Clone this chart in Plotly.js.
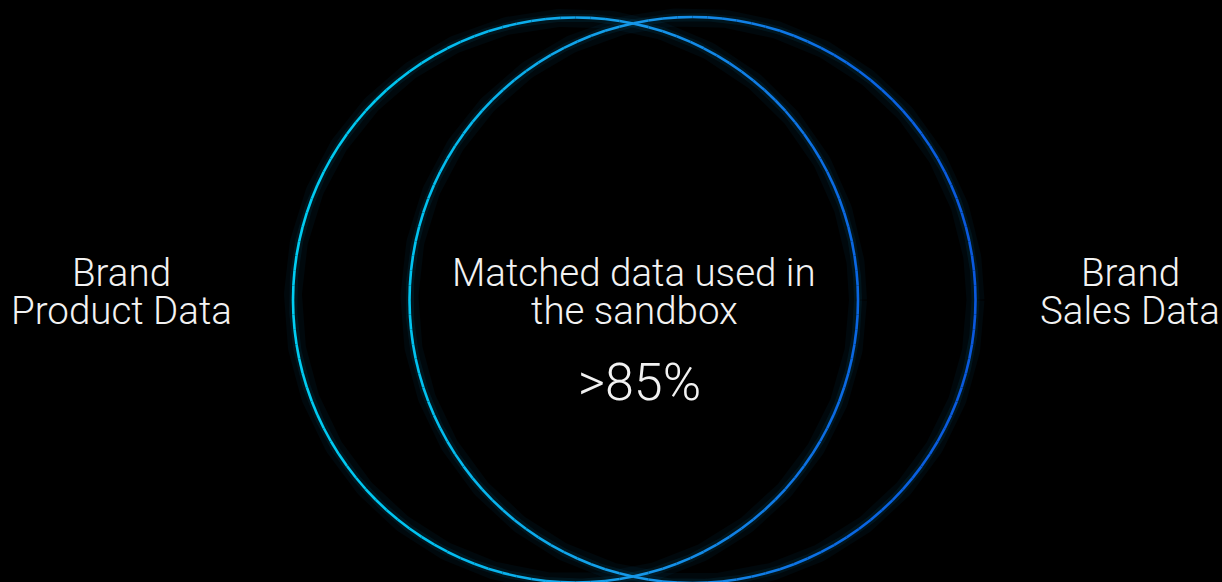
<!DOCTYPE html>
<html>
<head>
<meta charset="utf-8">
<script src="https://cdn.plot.ly/plotly-3.0.1.min.js"></script>
<style>
html,body{margin:0;padding:0;background:#000;}
#chart{width:1222px;height:582px;}
</style>
</head>
<body>
<div id="chart"></div>
<script>
// ---- data ----
var setNames = ["Brand Product Data", "Brand Sales Data"];
var setLabelLines = [["Brand", "Product Data"], ["Brand", "Sales Data"]];
var centerX = [575.5, 692.5];
var centerY = [300, 300];
var radius = [282.5, 283];
var overlapLines = ["Matched data used in", "the sandbox"];
var overlapValue = ">85%";

// gradient stops across x (colour of outline)
var gradX = [293, 409, 634, 858, 976];
var gradC = [[0,205,242],[0,196,240],[22,152,232],[10,102,226],[10,88,222]];

function colorAt(x){
  if (x <= gradX[0]) return gradC[0];
  for (var i=1;i<gradX.length;i++){
    if (x <= gradX[i]){
      var t=(x-gradX[i-1])/(gradX[i]-gradX[i-1]);
      var a=gradC[i-1], b=gradC[i];
      return [a[0]+(b[0]-a[0])*t, a[1]+(b[1]-a[1])*t, a[2]+(b[2]-a[2])*t];
    }
  }
  return gradC[gradC.length-1];
}

var traces = [];
var SEG = 120, STEP = 6;
for (var c=0;c<setNames.length;c++){
  var gx=[], gy=[];
  for (var k=0;k<=720;k++){
    var th=k/720*2*Math.PI;
    gx.push(centerX[c]+radius[c]*Math.cos(th));
    gy.push(centerY[c]+radius[c]*Math.sin(th));
  }
  traces.push({x:gx,y:gy,mode:'lines',type:'scatter',hoverinfo:'skip',showlegend:false,
    line:{color:'rgba(0,140,200,0.06)',width:18}});
  traces.push({x:gx,y:gy,mode:'lines',type:'scatter',hoverinfo:'skip',showlegend:false,
    line:{color:'rgba(0,150,210,0.09)',width:8}});
}
for (var c=0;c<setNames.length;c++){
  for (var s=0;s<SEG;s++){
    var xs=[], ys=[];
    for (var k=0;k<=STEP;k++){
      var th=(s+k/STEP)/SEG*2*Math.PI;
      xs.push(centerX[c]+radius[c]*Math.cos(th));
      ys.push(centerY[c]+radius[c]*Math.sin(th));
    }
    var col=colorAt(xs[Math.floor(STEP/2)]);
    traces.push({x:xs,y:ys,mode:'lines',type:'scatter',hoverinfo:'skip',showlegend:false,
      name:setNames[c],
      line:{color:'rgb('+Math.round(col[0])+','+Math.round(col[1])+','+Math.round(col[2])+')',width:2.6}});
  }
}

var fontBase = {family:'Roboto, "Noto Sans", sans-serif', color:'#f2f2f2', weight:300};
function f(size){ var o=JSON.parse(JSON.stringify(fontBase)); o.size=size; return o; }

var labelX = [121, 1130];
var lineMid = [272, 310];
var annotations = [];
function addLine(x, y, text, size, h){
  annotations.push({x:x, y:y, text:text, showarrow:false, xanchor:'center', yanchor:'middle',
    height:h, valign:'middle', font:f(size)});
}
for (var c=0;c<setLabelLines.length;c++){
  for (var l=0;l<setLabelLines[c].length;l++){
    addLine(labelX[c], lineMid[l], setLabelLines[c][l], 38.5, 30);
  }
}
for (var l=0;l<overlapLines.length;l++){
  addLine(634, lineMid[l], overlapLines[l], 38.5, 30);
}
addLine(639, 382, overlapValue, 52, 40);

var layout = {
  width:1222, height:582,
  margin:{l:0,r:0,t:0,b:0,pad:0},
  paper_bgcolor:'#000', plot_bgcolor:'#000',
  xaxis:{range:[0,1222],visible:false,fixedrange:true},
  yaxis:{range:[582,0],visible:false,fixedrange:true},
  showlegend:false,
  annotations:annotations
};
Plotly.newPlot('chart', traces, layout, {displayModeBar:false, staticPlot:true});
</script>
</body>
</html>
